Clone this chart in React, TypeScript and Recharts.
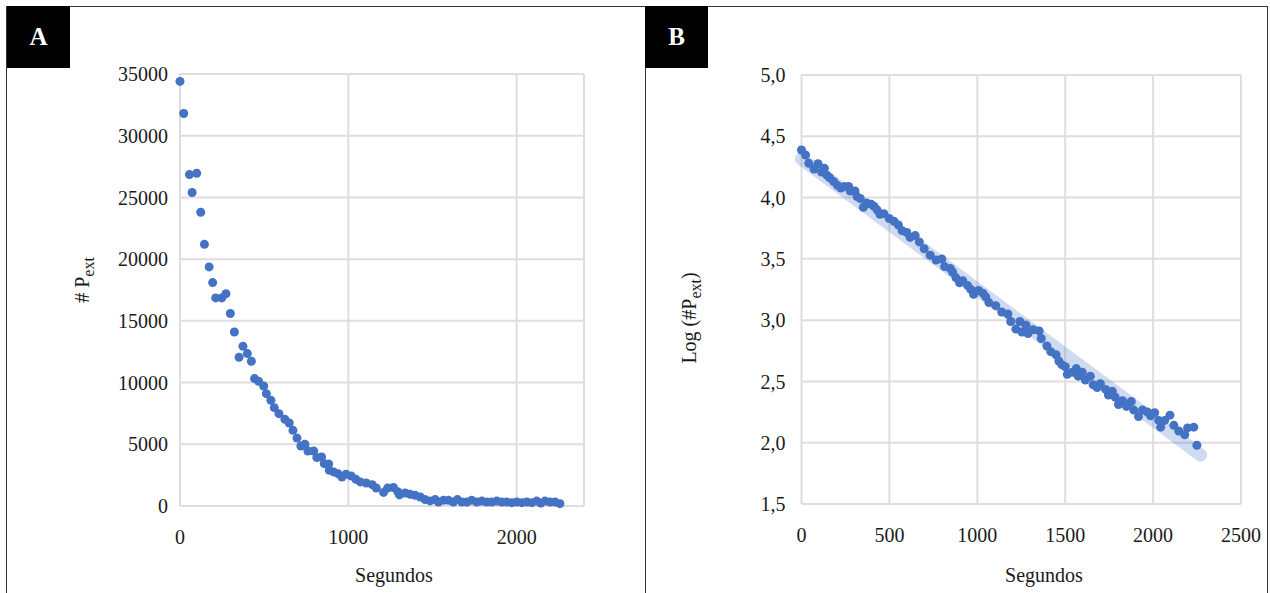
import React from "react";
import { ScatterChart, Scatter, XAxis, YAxis, CartesianGrid } from "recharts";

// Panel A: seconds vs #P_ext
const aSeconds = [0,22,56,72,99,123,145,173,194,212,248,273,299,323,351,374,400,424,443,467,497,513,540,560,588,623,649,671,695,718,742,760,794,813,841,857,883,887,912,938,962,986,1017,1045,1071,1106,1142,1166,1209,1233,1268,1294,1304,1338,1367,1397,1427,1456,1486,1516,1535,1565,1595,1624,1648,1674,1704,1733,1763,1793,1822,1852,1882,1911,1941,1971,2000,2030,2060,2090,2119,2143,2168,2198,2228,2257];
const aCount = [34400,31800,26850,25400,26960,23800,21200,19370,18100,16860,16860,17200,15600,14100,12050,12940,12350,11730,10320,10100,9720,9100,8560,7970,7480,7020,6720,6130,5500,4860,5000,4460,4460,3920,3970,3430,3400,2900,2760,2620,2350,2570,2430,2160,1950,1860,1730,1460,1100,1450,1500,1150,900,1050,950,870,730,520,410,520,320,460,460,320,520,320,320,460,320,400,320,320,400,320,320,270,320,270,320,270,400,240,400,320,320,190];

// Panel B: seconds vs log(#P_ext)
const bSeconds = [0,23,41,71,94,114,130,144,160,183,204,224,243,268,277,304,316,334,352,371,396,412,430,446,469,499,526,551,572,599,618,647,670,698,732,766,798,814,846,860,879,899,917,945,963,979,1007,1032,1048,1066,1105,1139,1174,1190,1219,1242,1254,1277,1288,1318,1352,1364,1396,1418,1448,1464,1482,1501,1512,1540,1563,1574,1597,1615,1643,1659,1682,1700,1730,1746,1768,1784,1803,1826,1849,1876,1890,1917,1940,1968,1986,2009,2032,2043,2066,2096,2118,2146,2180,2196,2231,2249];
const bLog = [4.388,4.347,4.279,4.233,4.276,4.208,4.239,4.183,4.162,4.131,4.100,4.078,4.091,4.091,4.054,4.054,4.008,3.992,3.921,3.955,3.946,3.930,3.900,3.863,3.869,3.829,3.807,3.776,3.730,3.715,3.675,3.690,3.638,3.582,3.530,3.490,3.499,3.437,3.422,3.391,3.345,3.305,3.322,3.282,3.251,3.211,3.242,3.220,3.190,3.143,3.118,3.066,3.050,2.989,2.927,2.989,2.903,2.959,2.891,2.922,2.912,2.850,2.789,2.743,2.718,2.666,2.635,2.620,2.558,2.574,2.605,2.543,2.574,2.512,2.543,2.472,2.450,2.481,2.435,2.389,2.419,2.373,2.312,2.343,2.296,2.336,2.266,2.213,2.266,2.250,2.219,2.244,2.182,2.127,2.182,2.225,2.142,2.096,2.065,2.121,2.127,1.979];

// Trend line (linear fit band) endpoints
const trendSeconds = [0, 2270];
const trendLog = [4.315, 1.9];

const aXTicks = [0, 1000, 2000];
const aYTicks = [0, 5000, 10000, 15000, 20000, 25000, 30000, 35000];
const bXTicks = [0, 500, 1000, 1500, 2000, 2500];
const bYTicks = [1.5, 2.0, 2.5, 3.0, 3.5, 4.0, 4.5, 5.0];

const dataA = aSeconds.map((x, i) => ({ x, y: aCount[i] }));
const dataB = bSeconds.map((x, i) => ({ x, y: bLog[i] }));
const dataTrend = trendSeconds.map((x, i) => ({ x, y: trendLog[i] }));

const BLUE = "#4472c4";
const GRID = "#dedede";
const FONT = "'Liberation Serif', 'Times New Roman', serif";
const tickStyle = { fontFamily: FONT, fontSize: 20, fill: "#1a1a1a" };

const Dot = (props: any) => <circle cx={props.cx} cy={props.cy} r={4.5} fill={BLUE} />;
const NoDot = () => null;

const labelBox = (left: number, text: string) => (
  <div
    style={{
      position: "absolute",
      left,
      top: 6,
      width: 63,
      height: 62,
      background: "#000",
      color: "#fff",
      fontFamily: FONT,
      fontWeight: "bold",
      fontSize: 25,
      display: "flex",
      alignItems: "center",
      justifyContent: "center",
    }}
  >
    {text}
  </div>
);

export default function App() {
  return (
    <div
      style={{
        position: "absolute",
        left: 0,
        top: 0,
        width: 1270,
        height: 593,
        background: "#fff",
        overflow: "hidden",
        fontFamily: FONT,
      }}
    >
      {/* borders */}
      <div style={{ position: "absolute", left: 6, top: 6, width: 1262, height: 1, background: "#333" }} />
      <div style={{ position: "absolute", left: 6, top: 6, width: 1, height: 600, background: "#333" }} />
      <div style={{ position: "absolute", left: 645, top: 6, width: 1, height: 600, background: "#333" }} />
      <div style={{ position: "absolute", left: 1267, top: 6, width: 1, height: 600, background: "#333" }} />
      {labelBox(7, "A")}
      {labelBox(645, "B")}

      {/* Panel A */}
      <div style={{ position: "absolute", left: 0, top: 0 }}>
        <ScatterChart width={640} height={593} margin={{ top: 74, right: 56, bottom: 57, left: 0 }}>
          <CartesianGrid stroke={GRID} strokeWidth={2} />
          <XAxis
            type="number"
            dataKey="x"
            domain={[0, 2400]}
            ticks={aXTicks}
            axisLine={false}
            tickLine={false}
            tickSize={0}
            tickMargin={24}
            height={30}
            tick={tickStyle}
          />
          <YAxis
            type="number"
            dataKey="y"
            domain={[0, 35000]}
            ticks={aYTicks}
            axisLine={false}
            tickLine={false}
            tickSize={0}
            tickMargin={12}
            width={180}
            tick={tickStyle}
          />
          <Scatter data={dataA} shape={Dot} isAnimationActive={false} />
        </ScatterChart>
      </div>
      <div
        style={{
          position: "absolute",
          left: 394 - 60,
          top: 564,
          width: 120,
          textAlign: "center",
          fontSize: 20,
          color: "#1a1a1a",
        }}
      >
        Segundos
      </div>
      <div
        style={{
          position: "absolute",
          left: 85 - 60,
          top: 280 - 14,
          width: 120,
          height: 28,
          textAlign: "center",
          fontSize: 20,
          color: "#1a1a1a",
          transform: "rotate(-90deg)",
          whiteSpace: "nowrap",
        }}
      >
        # P<sub style={{ fontSize: 16 }}>ext</sub>
      </div>

      {/* Panel B */}
      <div style={{ position: "absolute", left: 640, top: 0 }}>
        <ScatterChart width={630} height={593} margin={{ top: 75, right: 29, bottom: 59, left: 0 }}>
          <CartesianGrid stroke={GRID} strokeWidth={2} />
          <XAxis
            type="number"
            dataKey="x"
            domain={[0, 2500]}
            ticks={bXTicks}
            axisLine={false}
            tickLine={false}
            tickSize={0}
            tickMargin={24}
            height={30}
            tick={tickStyle}
          />
          <YAxis
            type="number"
            dataKey="y"
            domain={[1.5, 5.0]}
            ticks={bYTicks}
            axisLine={false}
            tickLine={false}
            tickSize={0}
            tickMargin={16}
            width={161.5}
            tick={tickStyle}
            tickFormatter={(v: number) => v.toFixed(1).replace(".", ",")}
          />
          <Scatter
            data={dataTrend}
            shape={NoDot}
            line={{ stroke: BLUE, strokeOpacity: 0.26, strokeWidth: 13, strokeLinecap: "round" }}
            isAnimationActive={false}
          />
          <Scatter data={dataB} shape={Dot} isAnimationActive={false} />
        </ScatterChart>
      </div>
      <div
        style={{
          position: "absolute",
          left: 1044 - 60,
          top: 564,
          width: 120,
          textAlign: "center",
          fontSize: 20,
          color: "#1a1a1a",
        }}
      >
        Segundos
      </div>
      <div
        style={{
          position: "absolute",
          left: 692 - 80,
          top: 318 - 14,
          width: 160,
          height: 28,
          textAlign: "center",
          fontSize: 20,
          color: "#1a1a1a",
          transform: "rotate(-90deg)",
          whiteSpace: "nowrap",
        }}
      >
        Log (#P<sub style={{ fontSize: 16 }}>ext</sub>)
      </div>
    </div>
  );
}
